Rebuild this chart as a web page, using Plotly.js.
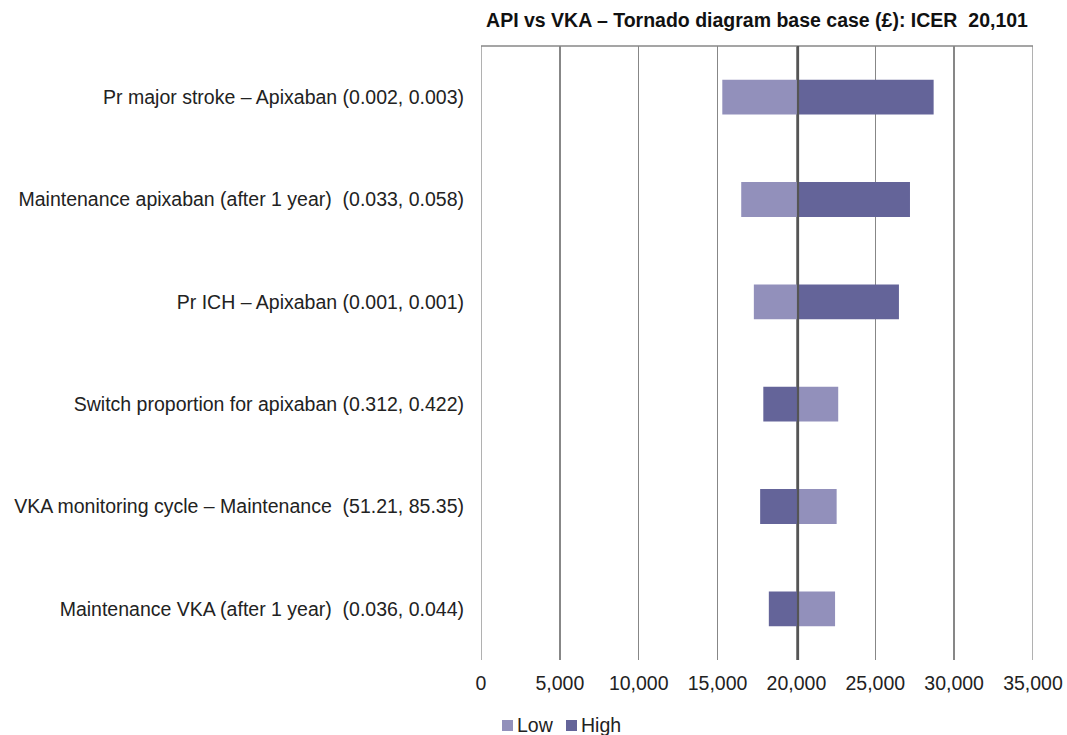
<!DOCTYPE html>
<html>
<head>
<meta charset="utf-8">
<script src="https://cdn.plot.ly/plotly-3.0.1.min.js"></script>
<style>html,body{margin:0;padding:0;background:#fff;}#chart{width:1067px;height:735px;}</style>
</head>
<body>
<div id="chart"></div>
<script>
const categories = [
  "Pr major stroke \u2013 Apixaban (0.002, 0.003)",
  "Maintenance apixaban (after 1 year)  (0.033, 0.058)",
  "Pr ICH \u2013 Apixaban (0.001, 0.001)",
  "Switch proportion for apixaban (0.312, 0.422)",
  "VKA monitoring cycle \u2013 Maintenance  (51.21, 85.35)",
  "Maintenance VKA (after 1 year)  (0.036, 0.044)"
];
const baseICER = 20101;
const lowValues = [15300, 16500, 17300, 22650, 22550, 22450];
const highValues = [28700, 27200, 26500, 17900, 17700, 18250];
const xTickVals = [0, 5000, 10000, 15000, 20000, 25000, 30000, 35000];
const xTickText = ["0", "5,000", "10,000", "15,000", "20,000", "25,000", "30,000", "35,000"];
const seriesNames = ["Low", "High"];

const FONT = "Liberation Sans, Arial, sans-serif";
const lowColor = "#9290bb";
const highColor = "#646499";
const gridColor = "#878787";
const TXT = "#222";

const traces = [
  {
    type: "bar", orientation: "h", name: seriesNames[0],
    y: categories,
    x: lowValues.map(v => v - baseICER),
    base: categories.map(() => baseICER),
    marker: {color: lowColor, line: {width: 0}},
    hoverinfo: "skip"
  },
  {
    type: "bar", orientation: "h", name: seriesNames[1],
    y: categories,
    x: highValues.map(v => v - baseICER),
    base: categories.map(() => baseICER),
    marker: {color: highColor, line: {width: 0}},
    hoverinfo: "skip"
  }
];

// legend drawn manually (tight swatch + label spacing as in reference)
const legX = [502, 566];  // pixel x of swatches
const W = 1067, H = 735, ML = 481, MR = 34, MT = 46, MB = 75;
const pw = W - ML - MR, ph = H - MT - MB;
const px2x = p => (p - ML) / pw;
const py2y = p => (H - MB - p) / ph;

const legendShapes = seriesNames.map((n, i) => ({
  type: "rect", xref: "paper", yref: "paper",
  x0: px2x(legX[i]), x1: px2x(legX[i] + 11),
  y0: py2y(731), y1: py2y(720),
  fillcolor: i === 0 ? lowColor : highColor, line: {width: 0}
}));
const legendAnnots = seriesNames.map((n, i) => ({
  xref: "paper", yref: "paper", x: px2x(legX[i] + 13), y: py2y(725),
  xanchor: "left", yanchor: "middle", showarrow: false, text: n,
  font: {family: FONT, size: 19.5, color: TXT}
}));

const layout = {
  width: W, height: H,
  paper_bgcolor: "#fff", plot_bgcolor: "#fff",
  margin: {l: ML, r: MR, t: MT, b: MB},
  barmode: "overlay",
  bargap: 0.66,
  showlegend: false,
  title: {text: "<b>API vs VKA \u2013 Tornado diagram base case (\u00a3): ICER  20,101</b>",
          x: 0.5, xref: "paper", xanchor: "center", y: 0.972, yanchor: "middle",
          font: {family: FONT, size: 19.5, color: "#111"}},
  xaxis: {
    range: [0, 35000], tickvals: xTickVals, ticktext: xTickText,
    showgrid: true, gridcolor: gridColor, gridwidth: 1.3,
    zeroline: false, showline: false, ticks: "",
    tickfont: {family: FONT, size: 19.5, color: TXT},
    ticklabelstandoff: 9, fixedrange: true
  },
  yaxis: {
    type: "category", autorange: "reversed",
    showgrid: false, zeroline: false, showline: false, ticks: "",
    tickfont: {family: FONT, size: 19.5, color: TXT},
    ticklabelstandoff: 16, fixedrange: true
  },
  shapes: [
    {type: "line", xref: "x", yref: "paper", x0: 0, x1: 35000, y0: 1, y1: 1,
     line: {color: gridColor, width: 1.3}},
    {type: "line", xref: "x", yref: "paper", x0: 0, x1: 0, y0: 0, y1: 1,
     line: {color: gridColor, width: 1.3}},
    {type: "line", xref: "x", yref: "paper", x0: 35000, x1: 35000, y0: 0, y1: 1,
     line: {color: gridColor, width: 1.3}},
    {type: "line", xref: "x", yref: "paper", x0: baseICER, x1: baseICER, y0: 0, y1: 1,
     layer: "above", line: {color: "#555", width: 2.2}}
  ].concat(legendShapes),
  annotations: legendAnnots
};

Plotly.newPlot("chart", traces, layout, {displayModeBar: false, staticPlot: true});
</script>
</body>
</html>
